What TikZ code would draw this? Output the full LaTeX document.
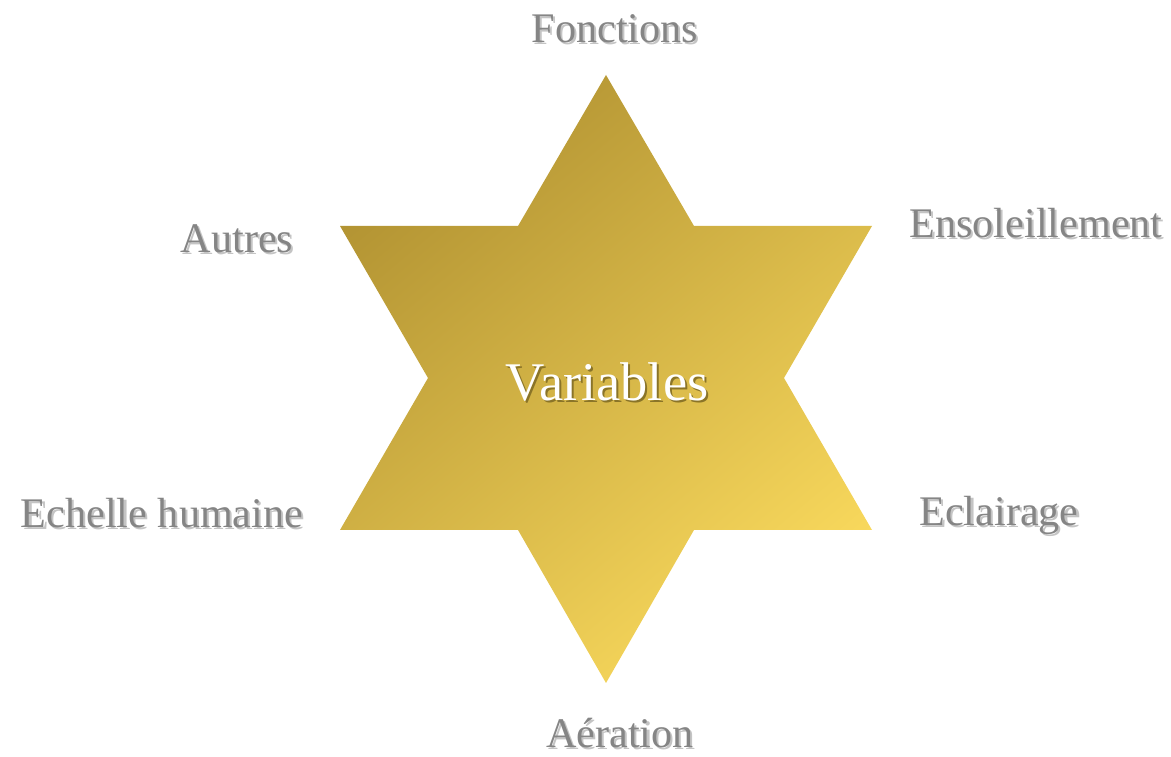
\documentclass[tikz,border=0pt]{standalone}
\usepackage{fontspec}
\setmainfont{Liberation Serif}
\usetikzlibrary{positioning}

\definecolor{stardark}{HTML}{B39433}
\definecolor{starlight}{HTML}{F8D85C}
\definecolor{labelgray}{HTML}{858585}
\definecolor{shadowgray}{HTML}{C4C4C4}
\definecolor{centreshade}{HTML}{8A7428}

% text with a soft drop shadow, kept in one node
\newcommand{\shadowed}[2]{%
  \makebox[0pt][l]{\kern1.2pt\raisebox{-1.2pt}{\textcolor{#1}{#2}}}#2}

\tikzset{
  lbl/.style={text=labelgray, font=\fontsize{24}{28}\selectfont, inner sep=0pt},
  centre/.style={text=white, font=\fontsize{31}{36}\selectfont, inner sep=0pt}
}

\begin{document}
\begin{tikzpicture}[x=0.02cm, y=0.02cm]
   \useasboundingbox (0,0) rectangle (1171,757);

   % Star
   \shade[top color=stardark, bottom color=starlight, shading angle=40]
     (606,682) -- (694,531) -- (872,531) -- (784,379) -- (872,227) -- (694,227)
     -- (606,74) -- (518,227) -- (340,227) -- (428,379) -- (340,531) -- (518,531) -- cycle;

   % Centre label
   \node[centre] (var) at (607,374) {\shadowed{centreshade}{Variables}};

   % Labels
   \node[lbl] (fonc) at (615,727) {\shadowed{shadowgray}{Fonctions}};
   \node[lbl] (enso) at (1036,533) {\shadowed{shadowgray}{Ensoleillement}};
   \node[lbl] (autr) at (237,517) {\shadowed{shadowgray}{Autres}};
   \node[lbl] (echu) at (162,243) {\shadowed{shadowgray}{Echelle humaine}};
   \node[lbl] (ecla) at (999,241) {\shadowed{shadowgray}{Eclairage}};
   \node[lbl] (aera) at (620,23) {\shadowed{shadowgray}{Aération}};
\end{tikzpicture}
\end{document}
